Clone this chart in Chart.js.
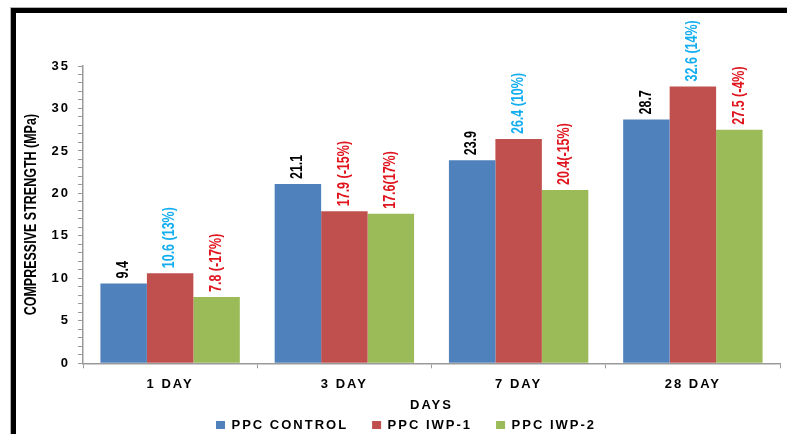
<!DOCTYPE html>
<html>
<head>
<meta charset="utf-8">
<script src="https://cdn.jsdelivr.net/npm/chart.js@4/dist/chart.umd.min.js"></script>
<style>
  html, body { margin: 0; padding: 0; background: #ffffff; }
  #wrap { position: relative; width: 787px; height: 434px; }
</style>
</head>
<body>
<div id="wrap"><canvas id="chart" width="787" height="434"></canvas></div>
<script>
// Compressive strength of PPC mixes by curing age
const categories = ['1 DAY', '3 DAY', '7 DAY', '28 DAY'];
const seriesNames = ['PPC CONTROL', 'PPC IWP-1', 'PPC IWP-2'];
const controlValues = [9.4, 21.1, 23.9, 28.7];
const iwp1Values = [10.6, 17.9, 26.4, 32.6];
const iwp2Values = [7.8, 17.6, 20.4, 27.5];
// change relative to the control mix, printed after each value
const controlNotes = ['', '', '', ''];
const iwp1Notes = [' (13%)', ' (-15%)', ' (10%)', ' (14%)'];
const iwp2Notes = [' (-17%)', '(17%)', '(-15%)', ' (-4%)'];
const yMin = 0, yMax = 35, yMinorStep = 1, yMajorStep = 5;
const xTitle = 'DAYS';
const yTitle = 'COMPRESSIVE STRENGTH (MPa)';

const FONT = '"Liberation Sans", Arial, sans-serif';
const AXIS = '#9a9a9a';
const INK = '#000000';
const CYAN = '#14aef0';
const RED = '#e0141c';

// wide horizontal lettering; rotated texts are drawn without it
const spacingPlugin = {
  id: 'spacing',
  beforeUpdate(chart) { chart.ctx.letterSpacing = '2px'; },
  beforeDraw(chart) { chart.ctx.letterSpacing = '2px'; }
};

// white page with a heavy black frame along the top and left edges
const framePlugin = {
  id: 'frame',
  beforeDraw(chart) {
    const ctx = chart.ctx;
    const w = chart.width, h = chart.height;
    ctx.save();
    ctx.fillStyle = '#ffffff';
    ctx.fillRect(0, 0, w, h);
    ctx.fillStyle = '#b4b4b4';
    ctx.fillRect(10, 7, w - 10, 1);
    ctx.fillRect(10, 7, 1, h - 7);
    ctx.fillStyle = '#000000';
    ctx.fillRect(11, 8, w - 11, 5);
    ctx.fillRect(11, 8, 5, h - 8);
    ctx.restore();
  }
};

// rotated text, reading upward, with its glyphs widened across the line
function drawUpText(ctx, text, x, y, align, color) {
  ctx.save();
  ctx.letterSpacing = '0px';
  ctx.translate(x, y);
  ctx.rotate(-Math.PI / 2);
  ctx.scale(1, 1.25);
  ctx.font = 'bold 12.5px ' + FONT;
  ctx.fillStyle = color;
  ctx.textAlign = align;
  ctx.textBaseline = 'middle';
  ctx.fillText(text, 0, 0);
  ctx.restore();
}

// vertical axis title beside the tick labels
const yTitlePlugin = {
  id: 'yTitle',
  afterDraw(chart) {
    const a = chart.chartArea;
    drawUpText(chart.ctx, yTitle, 32, (a.top + a.bottom) / 2, 'center', INK);
  }
};

// value labels written upward above each bar
const valueLabelPlugin = {
  id: 'valueLabels',
  afterDatasetsDraw(chart) {
    chart.data.datasets.forEach((ds, i) => {
      const meta = chart.getDatasetMeta(i);
      meta.data.forEach((bar, j) => {
        const text = ds.data[j].toFixed(1) + ds.notes[j];
        drawUpText(chart.ctx, text, bar.x, bar.y - 5, 'left', ds.labelColors[j]);
      });
    });
  }
};

new Chart(document.getElementById('chart'), {
  type: 'bar',
  data: {
    labels: categories,
    datasets: [
      { label: seriesNames[0], data: controlValues, notes: controlNotes,
        backgroundColor: '#4f81bd', labelColors: [INK, INK, INK, INK] },
      { label: seriesNames[1], data: iwp1Values, notes: iwp1Notes,
        backgroundColor: '#c0504d', labelColors: [CYAN, RED, CYAN, CYAN] },
      { label: seriesNames[2], data: iwp2Values, notes: iwp2Notes,
        backgroundColor: '#9bbb59', labelColors: [RED, RED, RED, RED] }
    ]
  },
  plugins: [spacingPlugin, framePlugin, yTitlePlugin, valueLabelPlugin],
  options: {
    responsive: false,
    animation: false,
    devicePixelRatio: 1,
    layout: { padding: { left: 32, right: 7, top: 66, bottom: -7.5 } },
    datasets: { bar: { categoryPercentage: 0.8, barPercentage: 1.0, borderWidth: 0 } },
    plugins: {
      tooltip: { enabled: false },
      legend: {
        position: 'bottom',
        labels: {
          boxWidth: 9, boxHeight: 8, padding: 24, color: INK,
          font: { family: FONT, size: 13, weight: 'bold' }
        }
      }
    },
    scales: {
      x: {
        border: { color: AXIS, width: 1.5 },
        grid: { display: true, drawOnChartArea: false, drawTicks: true, tickLength: 5, color: AXIS, offset: true },
        ticks: { color: INK, padding: 8, font: { family: FONT, size: 13, weight: 'bold' } },
        title: { display: true, text: xTitle, color: INK, font: { family: FONT, size: 13, weight: 'bold' },
                 padding: { top: -2, bottom: -19 } }
      },
      y: {
        min: yMin, max: yMax,
        border: { color: AXIS, width: 1.5 },
        grid: { display: true, drawOnChartArea: false, drawTicks: true, tickLength: 5, color: AXIS },
        ticks: {
          stepSize: yMinorStep, autoSkip: false, color: INK, padding: 8,
          font: { family: FONT, size: 13, weight: 'bold' },
          callback: (v) => (v % yMajorStep === 0 ? String(v) : '')
        },
        afterFit(scale) { scale.width = 51; }
      }
    }
  }
});
</script>
</body>
</html>
